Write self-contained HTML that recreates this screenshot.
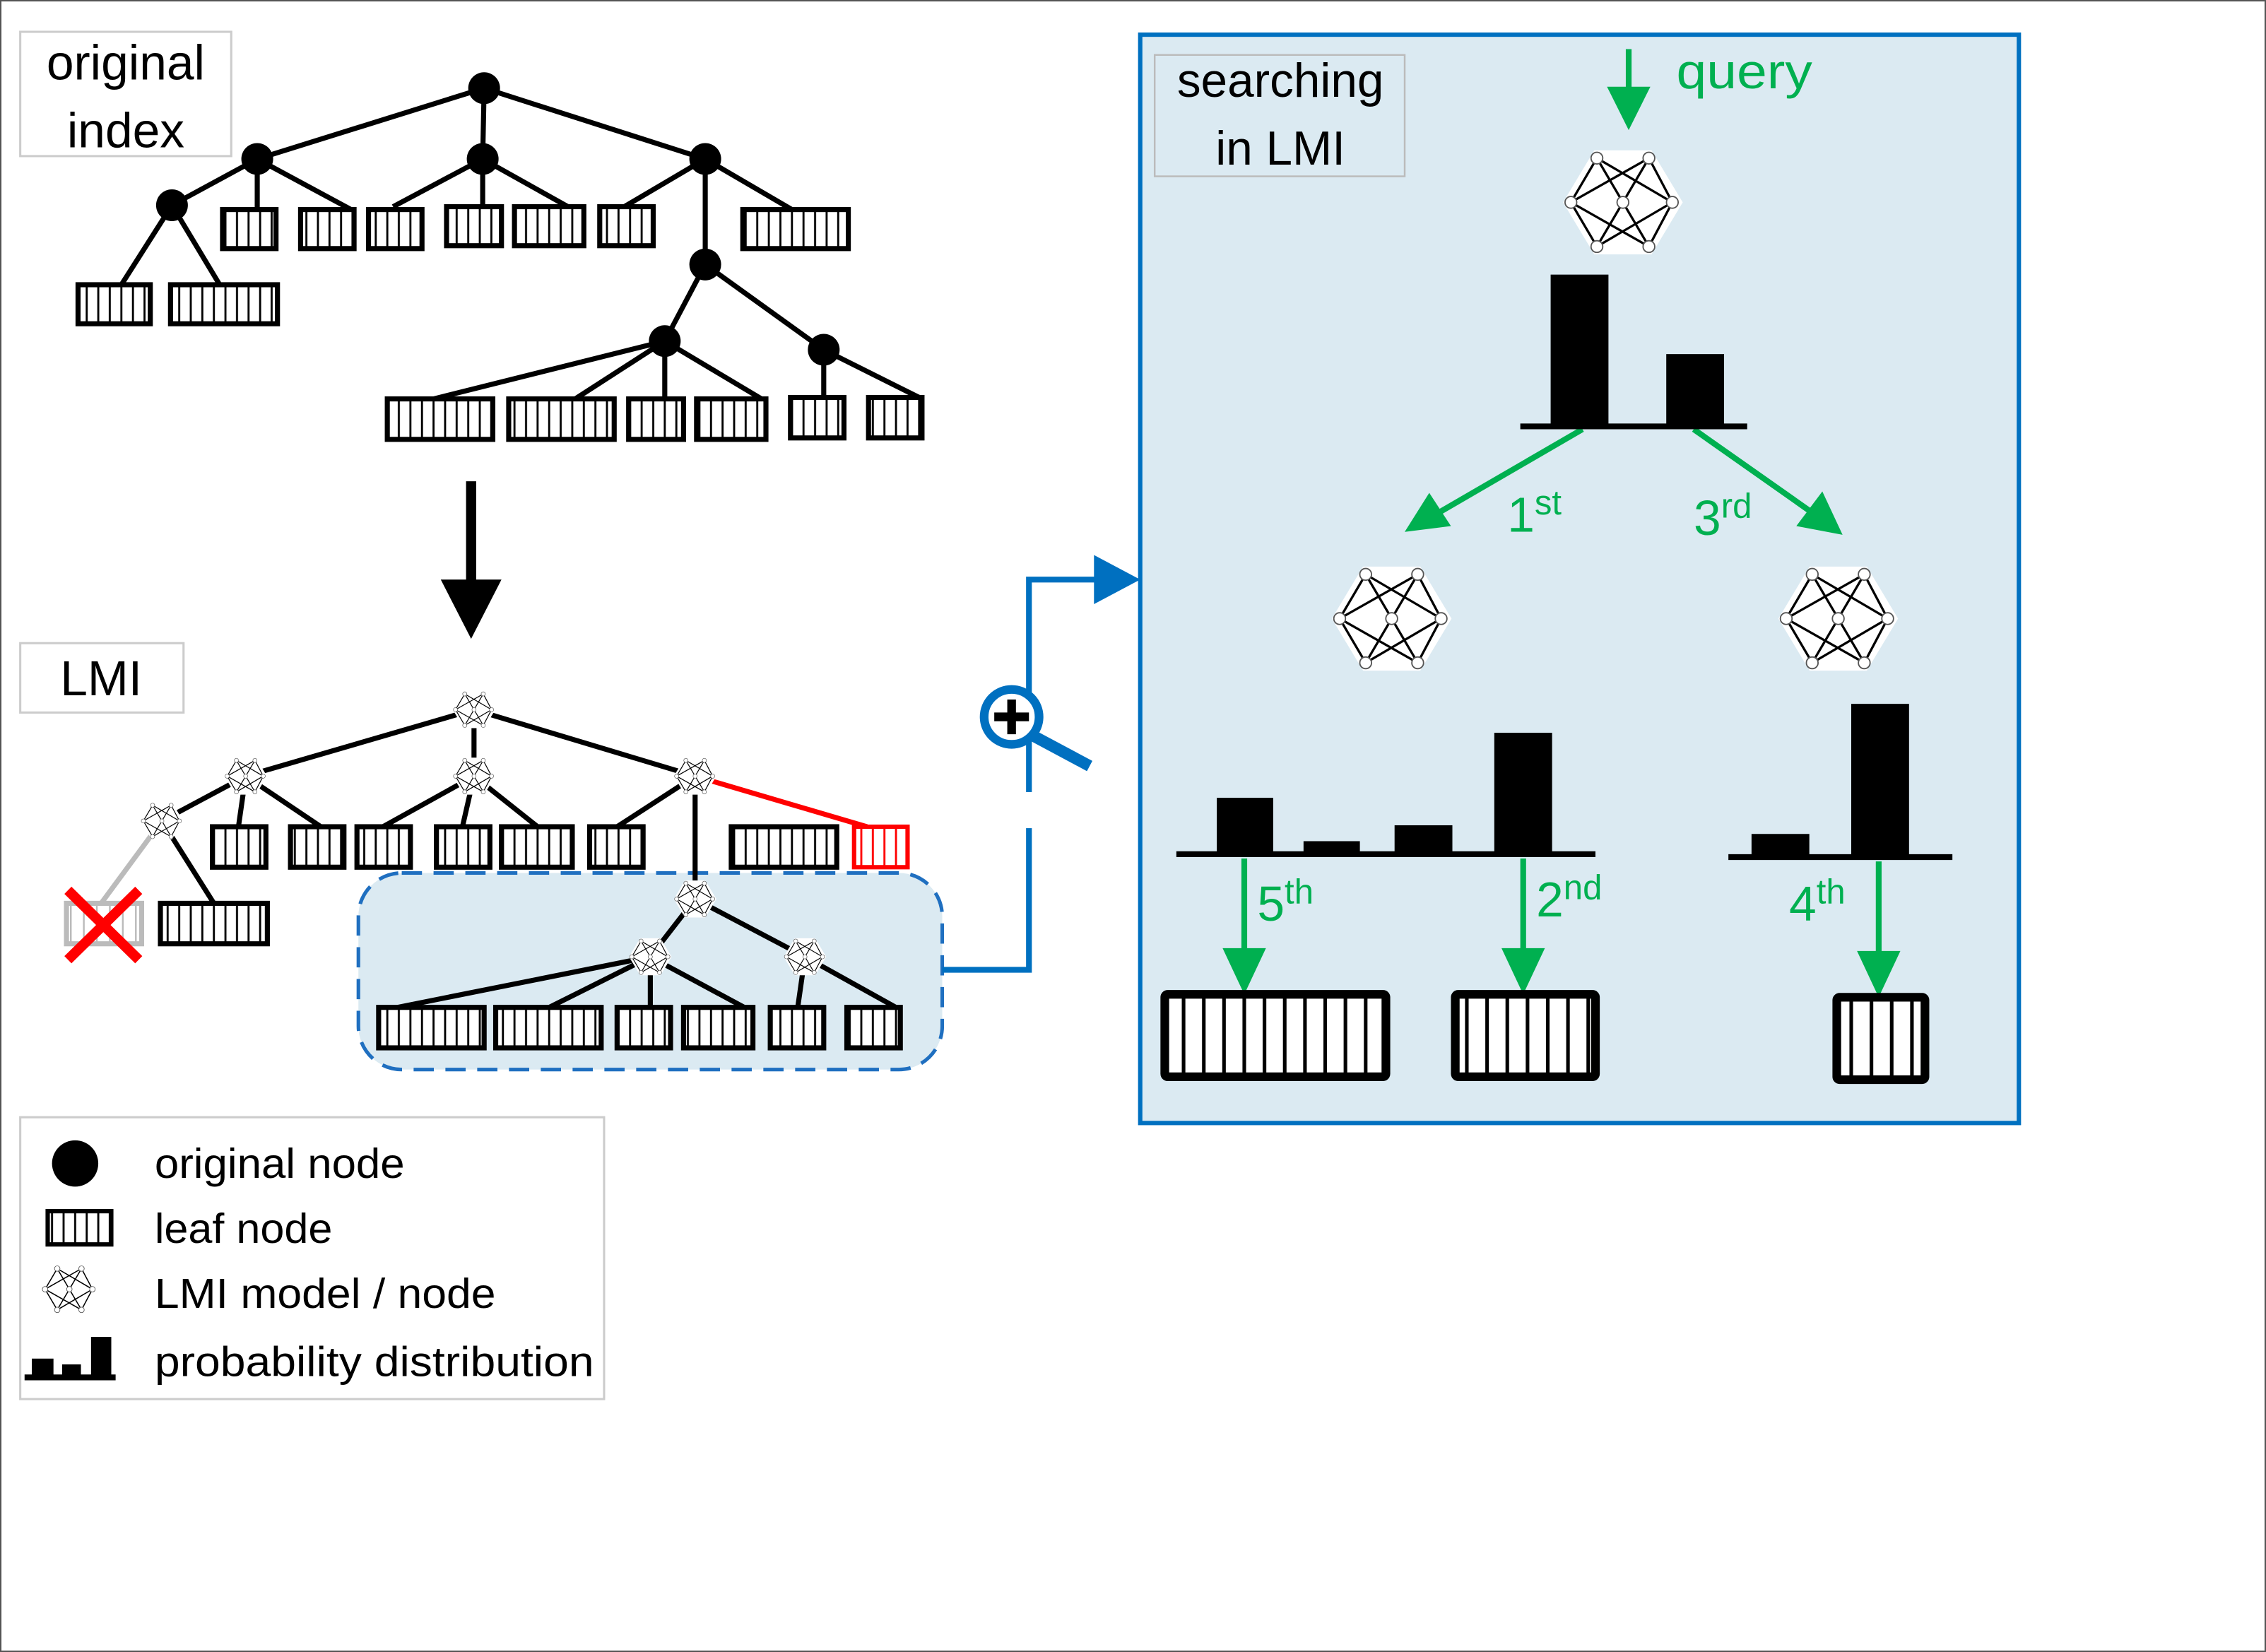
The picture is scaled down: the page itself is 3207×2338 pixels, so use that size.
<!DOCTYPE html>
<html><head><meta charset="utf-8"><style>
html,body{margin:0;padding:0;background:#fff;}
svg{display:block;}
text{font-family:"Liberation Sans",sans-serif;}
</style></head><body>
<svg width="3207" height="2338" viewBox="0 0 1568 1143" preserveAspectRatio="none" xmlns="http://www.w3.org/2000/svg">
<defs>
<pattern id="ps" patternUnits="userSpaceOnUse" width="8" height="10"><rect width="8" height="10" fill="#fff"/><line x1="4" y1="0" x2="4" y2="10" stroke="#000" stroke-width="1.4"/></pattern>
<pattern id="pg" patternUnits="userSpaceOnUse" width="9" height="10"><rect width="9" height="10" fill="#fff"/><line x1="4" y1="0" x2="4" y2="10" stroke="#bbb" stroke-width="1.2"/></pattern>
<pattern id="pr" patternUnits="userSpaceOnUse" width="8" height="10"><rect width="8" height="10" fill="#fff"/><line x1="4" y1="0" x2="4" y2="10" stroke="#f00" stroke-width="1.4"/></pattern>
<pattern id="pb" patternUnits="userSpaceOnUse" width="14" height="10"><rect width="14" height="10" fill="#fff"/><line x1="7" y1="0" x2="7" y2="10" stroke="#000" stroke-width="2.5"/></pattern>
<symbol id="net" viewBox="-50 -50 100 100">
<polygon points="-22,-40 22,-40 46,0 22,40 -22,40 -46,0" fill="#fff"/>
<g stroke="#000" stroke-width="1.8">
<line x1="-20" y1="-34" x2="-40" y2="0"/><line x1="-20" y1="-34" x2="0" y2="0"/><line x1="-20" y1="-34" x2="38" y2="0"/>
<line x1="20" y1="-34" x2="-40" y2="0"/><line x1="20" y1="-34" x2="0" y2="0"/><line x1="20" y1="-34" x2="38" y2="0"/>
<line x1="-40" y1="0" x2="-20" y2="34"/><line x1="-40" y1="0" x2="20" y2="34"/><line x1="38" y1="0" x2="-20" y2="34"/><line x1="38" y1="0" x2="20" y2="34"/>
<line x1="0" y1="0" x2="-20" y2="34"/><line x1="0" y1="0" x2="20" y2="34"/></g>
<g fill="#fff" stroke="#555" stroke-width="1">
<circle cx="-20" cy="-34" r="4.5"/><circle cx="20" cy="-34" r="4.5"/><circle cx="-40" cy="0" r="4.5"/><circle cx="0" cy="0" r="4.5"/><circle cx="38" cy="0" r="4.5"/><circle cx="-20" cy="34" r="4.5"/><circle cx="20" cy="34" r="4.5"/></g>
</symbol>
</defs>
<rect x="0.5" y="0.5" width="1567" height="1142" fill="#fff" stroke="#555" stroke-width="1"/>

<rect x="14" y="22" width="146" height="86" fill="#fff" stroke="#ccc" stroke-width="1.5"/>
<text x="87" y="55" font-size="34" text-anchor="middle">original</text>
<text x="87" y="102" font-size="34" text-anchor="middle">index</text>
<g stroke="#000" stroke-width="3.5" fill="none">
<line x1="335" y1="61" x2="178" y2="110"/><line x1="335" y1="61" x2="334" y2="110"/><line x1="335" y1="61" x2="488" y2="110"/>
<line x1="178" y1="110" x2="119" y2="142"/><line x1="178" y1="110" x2="178" y2="145"/><line x1="178" y1="110" x2="243" y2="145"/>
<line x1="119" y1="142" x2="84" y2="197"/><line x1="119" y1="142" x2="152" y2="197"/>
<line x1="334" y1="110" x2="272" y2="143"/><line x1="334" y1="110" x2="334" y2="143"/><line x1="334" y1="110" x2="393" y2="143"/>
<line x1="488" y1="110" x2="432" y2="143"/><line x1="488" y1="110" x2="548" y2="145"/><line x1="488" y1="110" x2="488" y2="183"/>
<line x1="488" y1="183" x2="460" y2="236"/><line x1="488" y1="183" x2="570" y2="242"/>
<line x1="460" y1="236" x2="300" y2="276"/><line x1="460" y1="236" x2="398" y2="276"/><line x1="460" y1="236" x2="460" y2="276"/><line x1="460" y1="236" x2="527" y2="276"/>
<line x1="570" y1="242" x2="570" y2="275"/><line x1="570" y1="242" x2="636" y2="275"/>
</g>
<g fill="#000">
<circle cx="335" cy="61" r="11"/><circle cx="178" cy="110" r="11"/><circle cx="334" cy="110" r="11"/><circle cx="488" cy="110" r="11"/><circle cx="119" cy="142" r="11"/><circle cx="488" cy="183" r="11"/><circle cx="460" cy="236" r="11"/><circle cx="570" cy="242" r="11"/>
</g>
<g fill="url(#ps)" stroke="#000" stroke-width="3.5">
<rect x="54" y="197" width="50" height="27"/><rect x="118" y="197" width="74" height="27"/>
<rect x="154" y="145" width="37" height="27"/><rect x="208" y="145" width="37" height="27"/><rect x="255" y="145" width="37" height="27"/>
<rect x="309" y="143" width="38" height="27"/><rect x="356" y="143" width="48" height="27"/><rect x="415" y="143" width="37" height="27"/><rect x="514" y="145" width="73" height="27"/>
<rect x="268" y="276" width="73" height="28"/><rect x="352" y="276" width="73" height="28"/><rect x="435" y="276" width="38" height="28"/><rect x="482" y="276" width="48" height="28"/><rect x="547" y="275" width="37" height="28"/><rect x="601" y="275" width="37" height="28"/>
</g>

<line x1="326" y1="333" x2="326" y2="405" stroke="#000" stroke-width="7"/>
<polygon points="305,401 347,401 326,442" fill="#000"/>

<rect x="14" y="445" width="113" height="48" fill="#fff" stroke="#ccc" stroke-width="1.5"/>
<text x="70" y="481" font-size="34" text-anchor="middle">LMI</text>

<rect x="248" y="604" width="404" height="136" rx="30" fill="#dbeaf2" stroke="#1f6fc0" stroke-width="2.5" stroke-dasharray="14,8"/>

<g stroke="#000" stroke-width="3.5" fill="none">
<line x1="328" y1="491" x2="170" y2="537"/><line x1="328" y1="491" x2="328" y2="537"/><line x1="328" y1="491" x2="481" y2="537"/>
<line x1="170" y1="537" x2="165" y2="572"/><line x1="170" y1="537" x2="222" y2="572"/><line x1="170" y1="537" x2="112" y2="568"/>
<line x1="112" y1="568" x2="148" y2="625"/>
<line x1="328" y1="537" x2="265" y2="572"/><line x1="328" y1="537" x2="320" y2="572"/><line x1="328" y1="537" x2="372" y2="572"/>
<line x1="481" y1="537" x2="427" y2="572"/><line x1="481" y1="537" x2="481" y2="622"/>
<line x1="481" y1="622" x2="450" y2="662"/><line x1="481" y1="622" x2="557" y2="662"/>
<line x1="450" y1="662" x2="275" y2="697"/><line x1="450" y1="662" x2="380" y2="697"/><line x1="450" y1="662" x2="450" y2="697"/><line x1="450" y1="662" x2="515" y2="697"/>
<line x1="557" y1="662" x2="552" y2="697"/><line x1="557" y1="662" x2="620" y2="697"/>
</g>
<line x1="112" y1="568" x2="70" y2="625" stroke="#bbb" stroke-width="3.5"/>
<line x1="481" y1="537" x2="600" y2="572" stroke="#f00" stroke-width="3.5"/>
<g fill="url(#ps)" stroke="#000" stroke-width="3.5">
<rect x="147" y="572" width="37" height="28"/><rect x="201" y="572" width="37" height="28"/><rect x="247" y="572" width="37" height="28"/><rect x="302" y="572" width="37" height="28"/><rect x="347" y="572" width="49" height="28"/><rect x="408" y="572" width="37" height="28"/><rect x="506" y="572" width="73" height="28"/>
<rect x="111" y="625" width="74" height="28"/>
<rect x="262" y="697" width="73" height="28"/><rect x="343" y="697" width="73" height="28"/><rect x="427" y="697" width="37" height="28"/><rect x="473" y="697" width="48" height="28"/><rect x="533" y="697" width="37" height="28"/><rect x="586" y="697" width="37" height="28"/>
</g>
<rect x="591" y="572" width="37" height="28" fill="url(#pr)" stroke="#f00" stroke-width="3"/>
<rect x="46" y="625" width="52" height="28" fill="url(#pg)" stroke="#bbb" stroke-width="3.5"/>
<g stroke="#f00" stroke-width="7"><line x1="47" y1="616" x2="96" y2="664"/><line x1="96" y1="616" x2="47" y2="664"/></g>
<use href="#net" x="312" y="475" width="32" height="32"/>
<use href="#net" x="154" y="521" width="32" height="32"/>
<use href="#net" x="312" y="521" width="32" height="32"/>
<use href="#net" x="465" y="521" width="32" height="32"/>
<use href="#net" x="96" y="552" width="32" height="32"/>
<use href="#net" x="465" y="606" width="32" height="32"/>
<use href="#net" x="434" y="646" width="32" height="32"/>
<use href="#net" x="541" y="646" width="32" height="32"/>

<polyline points="652,671 712,671 712,548" fill="none" stroke="#0070c0" stroke-width="4"/>
<polyline points="712,573 712,401 760,401" fill="none" stroke="#0070c0" stroke-width="4"/>
<rect x="700" y="548" width="30" height="25" fill="#fff"/>
<polygon points="757,384 789,401 757,418" fill="#0070c0"/>
<line x1="711" y1="507" x2="754" y2="530" stroke="#0070c0" stroke-width="8"/>
<circle cx="700" cy="496" r="19" fill="#fff" stroke="#0070c0" stroke-width="6"/>
<g stroke="#000" stroke-width="6"><line x1="688" y1="496" x2="712" y2="496"/><line x1="700" y1="484" x2="700" y2="508"/></g>

<rect x="14" y="773" width="404" height="195" fill="#fff" stroke="#ccc" stroke-width="1.5"/>
<circle cx="52" cy="805" r="16" fill="#000"/>
<rect x="33" y="838" width="44" height="23" fill="url(#ps)" stroke="#000" stroke-width="3"/>
<use href="#net" x="27" y="871" width="42" height="42"/>
<g fill="#000"><rect x="22" y="940" width="15" height="13"/><rect x="43" y="944" width="13" height="9"/><rect x="63" y="925" width="14" height="28"/></g>
<line x1="17" y1="953" x2="80" y2="953" stroke="#000" stroke-width="4"/>
<g font-size="29"><text x="107" y="815" textLength="173" lengthAdjust="spacingAndGlyphs">original node</text><text x="107" y="860" textLength="123" lengthAdjust="spacingAndGlyphs">leaf node</text><text x="107" y="905" textLength="236" lengthAdjust="spacingAndGlyphs">LMI model / node</text><text x="107" y="952" textLength="304" lengthAdjust="spacingAndGlyphs">probability distribution</text></g>

<rect x="789" y="24" width="608" height="753" fill="#dbeaf2" stroke="#0070c0" stroke-width="3"/>
<rect x="799" y="38" width="173" height="84" fill="#dbeaf2" stroke="#bbb" stroke-width="1.2"/>
<text x="886" y="67" font-size="33" text-anchor="middle">searching</text>
<text x="886" y="114" font-size="33" text-anchor="middle">in LMI</text>
<g fill="#00b050" stroke="#00b050">
<line x1="1127" y1="34" x2="1127" y2="64" stroke-width="4"/><polygon points="1112,60 1142,60 1127,90" stroke="none"/>
<line x1="1095" y1="297" x2="995" y2="355" stroke-width="4"/><polygon points="972,368 989,341 1004,364" stroke="none"/>
<line x1="1172" y1="297" x2="1253" y2="354" stroke-width="4"/><polygon points="1275,370 1243,364 1261,340" stroke="none"/>
<line x1="861" y1="594" x2="861" y2="660" stroke-width="4"/><polygon points="846,656 876,656 861,688" stroke="none"/>
<line x1="1054" y1="594" x2="1054" y2="660" stroke-width="4"/><polygon points="1039,656 1069,656 1054,688" stroke="none"/>
<line x1="1300" y1="596" x2="1300" y2="662" stroke-width="4"/><polygon points="1285,658 1315,658 1300,690" stroke="none"/>
</g>
<g fill="#00b050" font-size="34">
<text x="1160" y="61" textLength="94" lengthAdjust="spacingAndGlyphs">query</text>
<text x="1043" y="368">1<tspan font-size="24" dy="-12">st</tspan></text>
<text x="1172" y="370">3<tspan font-size="24" dy="-12">rd</tspan></text>
<text x="870" y="637">5<tspan font-size="24" dy="-12">th</tspan></text>
<text x="1063" y="634">2<tspan font-size="24" dy="-12">nd</tspan></text>
<text x="1238" y="637">4<tspan font-size="24" dy="-12">th</tspan></text>
</g>
<use href="#net" x="1078" y="95" width="90" height="90"/>
<use href="#net" x="918" y="383" width="90" height="90"/>
<use href="#net" x="1227" y="383" width="90" height="90"/>
<g fill="#000">
<rect x="1073" y="190" width="40" height="105"/><rect x="1153" y="245" width="40" height="50"/>
<rect x="842" y="552" width="39" height="38"/><rect x="902" y="582" width="39" height="8"/><rect x="965" y="571" width="40" height="19"/><rect x="1034" y="507" width="40" height="83"/>
<rect x="1212" y="577" width="40" height="15"/><rect x="1281" y="487" width="40" height="105"/>
</g>
<g stroke="#000" stroke-width="4">
<line x1="1052" y1="295" x2="1209" y2="295"/><line x1="814" y1="591" x2="1104" y2="591"/><line x1="1196" y1="593" x2="1351" y2="593"/>
</g>
<g fill="url(#pb)" stroke="#000" stroke-width="6">
<rect x="806" y="688" width="153" height="57" rx="2"/><rect x="1007" y="688" width="97" height="57" rx="2"/><rect x="1271" y="690" width="61" height="57" rx="2"/>
</g>
</svg>
</body></html>
